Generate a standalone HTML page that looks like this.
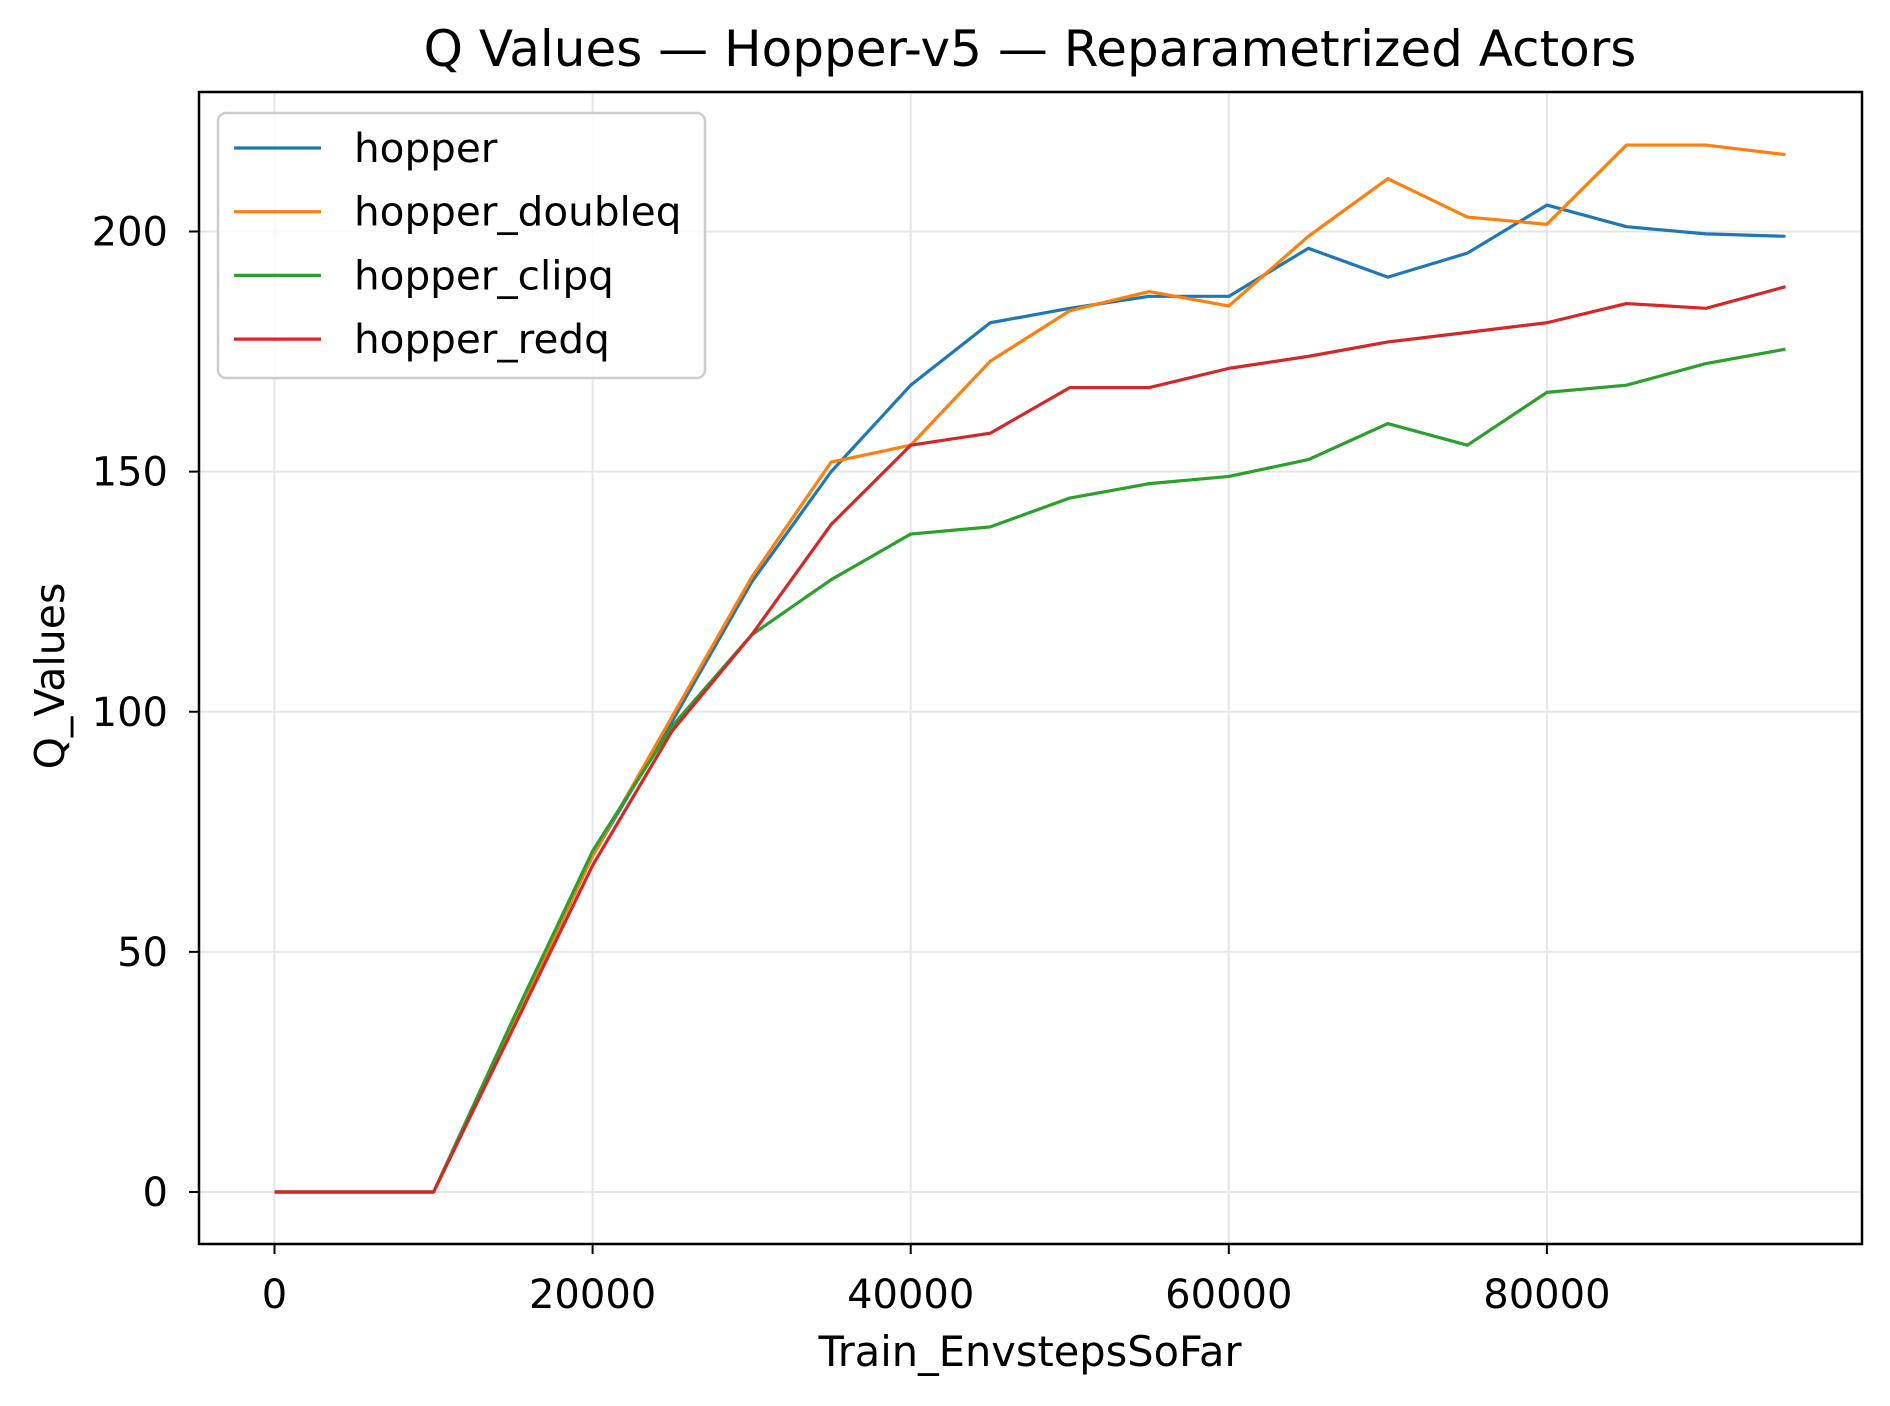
<!DOCTYPE html>
<html><head><meta charset="utf-8"><style>body{margin:0;background:#fff}svg{display:block;font-family:"DejaVu Sans","Liberation Sans",sans-serif}</style></head>
<body>
<svg id="chart" width="1890" height="1406" viewBox="0 0 1890 1406" xmlns="http://www.w3.org/2000/svg">
<rect width="1890" height="1406" fill="#fff"/>
<text x="1030" y="66" font-size="50" text-anchor="middle">Q Values — Hopper-v5 — Reparametrized Actors</text>
<g id="grid"></g>
<g id="series"></g>
<rect x="199" y="92" width="1663" height="1152" fill="none" stroke="#000" stroke-width="2.5"/>
<g id="ticks"></g>
<text x="1030" y="1366" font-size="41.5" text-anchor="middle">Train_EnvstepsSoFar</text>
<text transform="translate(64,676) rotate(-90)" font-size="41" text-anchor="middle">Q_Values</text>
<g id="legend"></g>
</svg>
<script>
const steps = [0,5000,10000,15000,20000,25000,30000,35000,40000,45000,50000,55000,60000,65000,70000,75000,80000,85000,90000,95000];
const hopper = [0,0,0,35,70,98,127,150,168,181,184,186.5,186.5,196.5,190.5,195.5,205.5,201,199.5,199];
const hopperDoubleq = [0,0,0,35,70,99,128,152,155.5,173,183.5,187.5,184.5,199,211,203,201.5,218,218,216];
const hopperClipq = [0,0,0,36,71,97,116,127.5,137,138.5,144.5,147.5,149,152.5,160,155.5,166.5,168,172.5,175.5];
const hopperRedq = [0,0,0,34,68,96,116,139,155.5,158,167.5,167.5,171.5,174,177,179,181,185,184,188.5];
const xTicks = [0,20000,40000,60000,80000];
const yTicks = [0,50,100,150,200];
const seriesNames = ["hopper","hopper_doubleq","hopper_clipq","hopper_redq"];

const NS="http://www.w3.org/2000/svg";
const X=v=>274.5+v*(318.1/20000);
const Y=v=>1192-v*(960.5/200);
function mk(tag,attrs,parent){const e=document.createElementNS(NS,tag);for(const k in attrs)e.setAttribute(k,attrs[k]);parent.appendChild(e);return e;}
const grid=document.getElementById('grid'),ticks=document.getElementById('ticks'),ser=document.getElementById('series'),leg=document.getElementById('legend');
xTicks.forEach(t=>{
 const g=mk('line',{x1:X(t),x2:X(t),y1:92,y2:1244,stroke:'#e6e6e6','stroke-width':2},grid);
 
 
 const l=mk('line',{x1:X(t),x2:X(t),y1:1244,y2:1254,stroke:'#000','stroke-width':2},ticks);
 
 
 const tx=mk('text',{x:X(t),y:1308,'font-size':40,'text-anchor':'middle'},ticks);
 tx.textContent=t;
 
 
});
yTicks.forEach(t=>{
 const g=mk('line',{x1:199,x2:1862,y1:Y(t),y2:Y(t),stroke:'#e6e6e6','stroke-width':2},grid);
 
 
 const l=mk('line',{x1:189,x2:199,y1:Y(t),y2:Y(t),stroke:'#000','stroke-width':2},ticks);
 
 
 const tx=mk('text',{x:168,y:Y(t)+14,'font-size':40,'text-anchor':'end'},ticks);
 tx.textContent=t;
 
 
});
const all=[hopper,hopperDoubleq,hopperClipq,hopperRedq];
const colors=["#1f77b4","#ff7f0e","#2ca02c","#d62728"];
all.forEach((s,i)=>{
 const p=mk('polyline',{points:s.map((v,j)=>X(steps[j])+','+Y(v)).join(' '),fill:'none',stroke:colors[i],'stroke-width':3.2,'stroke-linejoin':'round'},ser);
 
 
});
const box=mk('rect',{x:218,y:113,width:487,height:265,rx:8,fill:'#fff','fill-opacity':0.8,stroke:'#cccccc','stroke-width':2.5},leg);


seriesNames.forEach((n,i)=>{
 const y=148+i*63.7;
 const l=mk('line',{x1:234,x2:321,y1:y,y2:y,stroke:colors[i],'stroke-width':3.2},leg);
 
 
 const t=mk('text',{x:354,y:y+14,'font-size':40.5},leg);
 t.textContent=n;
 
 
});
</script>
</body></html>
